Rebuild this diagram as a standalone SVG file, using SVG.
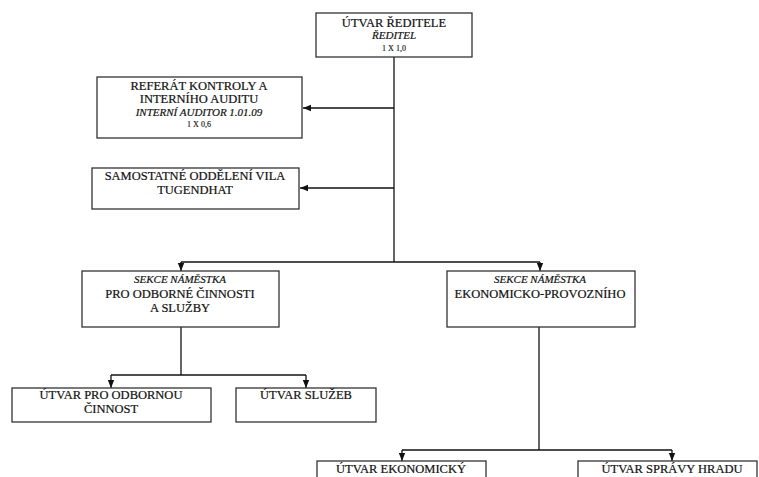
<svg xmlns="http://www.w3.org/2000/svg" width="759" height="477" viewBox="0 0 759 477">
<style>
.box{fill:#fff;stroke:#333;stroke-width:1.3}
.t{font-family:"Liberation Serif","Times New Roman",serif;font-size:12.5px;fill:#111;stroke:#111;stroke-width:0.2;text-anchor:middle}
.i{font-style:italic;font-size:11px}
.s{font-size:8px;stroke-width:0.15}
.c{fill:none;stroke:#111;stroke-width:1.3}
</style>
<defs>
<marker id="ah" markerUnits="userSpaceOnUse" markerWidth="8" markerHeight="8" viewBox="0 0 8 8" refX="8" refY="4" orient="auto">
<path d="M0,0.8 L8,4 L0,7.2 Z" fill="#111"/>
</marker>
</defs>
<rect width="759" height="477" fill="#fff"/>
<g id="connectors">
<path class="c" d="M394,57 V262"/>
<path class="c" d="M394,108 H303" marker-end="url(#ah)"/>
<path class="c" d="M394,188 H300" marker-end="url(#ah)"/>
<path class="c" d="M181,262 H540"/>
<path class="c" d="M181,262 V271" marker-end="url(#ah)"/>
<path class="c" d="M540,262 V271" marker-end="url(#ah)"/>
<path class="c" d="M181,327 V375"/>
<path class="c" d="M111,375 H306"/>
<path class="c" d="M111,375 V388" marker-end="url(#ah)"/>
<path class="c" d="M306,375 V388" marker-end="url(#ah)"/>
<path class="c" d="M539,327 V450"/>
<path class="c" d="M402,450 H672"/>
<path class="c" d="M402,450 V461" marker-end="url(#ah)"/>
<path class="c" d="M672,450 V461" marker-end="url(#ah)"/>
</g>
<g id="reditel">
<rect class="box" x="316" y="13" width="156" height="44"/>
<text class="t" x="394" y="27">ÚTVAR ŘEDITELE</text>
<text class="t i" x="394" y="39">ŘEDITEL</text>
<text class="t s" x="394" y="51">1 X 1,0</text>
</g>
<g id="audit">
<rect class="box" x="97" y="77" width="205" height="61"/>
<text class="t" x="199" y="90">REFERÁT KONTROLY A</text>
<text class="t" x="199" y="103">INTERNÍHO AUDITU</text>
<text class="t i" x="199" y="116">INTERNÍ AUDITOR 1.01.09</text>
<text class="t s" x="199" y="127">1 X 0,6</text>
</g>
<g id="vila">
<rect class="box" x="92" y="168" width="207" height="41"/>
<text class="t" x="195" y="180">SAMOSTATNÉ ODDĚLENÍ VILA</text>
<text class="t" x="195" y="194">TUGENDHAT</text>
</g>
<g id="sekce-odborne">
<rect class="box" x="82" y="271" width="197" height="56"/>
<text class="t i" x="180" y="283">SEKCE NÁMĚSTKA</text>
<text class="t" x="180" y="298">PRO ODBORNÉ ČINNOSTI</text>
<text class="t" x="180" y="312">A SLUŽBY</text>
</g>
<g id="sekce-ekonom">
<rect class="box" x="447" y="271" width="188" height="56"/>
<text class="t i" x="540" y="283">SEKCE NÁMĚSTKA</text>
<text class="t" x="540" y="298">EKONOMICKO-PROVOZNÍHO</text>
</g>
<g id="odborna">
<rect class="box" x="12" y="388" width="199" height="34"/>
<text class="t" x="111" y="399">ÚTVAR PRO ODBORNOU</text>
<text class="t" x="111" y="413">ČINNOST</text>
</g>
<g id="sluzby">
<rect class="box" x="236" y="388" width="140" height="34"/>
<text class="t" x="306" y="399">ÚTVAR SLUŽEB</text>
</g>
<g id="ekonomicky">
<rect class="box" x="317" y="461" width="169" height="30"/>
<text class="t" x="401" y="473">ÚTVAR EKONOMICKÝ</text>
</g>
<g id="sprava">
<rect class="box" x="578" y="461" width="179" height="30"/>
<text class="t" x="672" y="473">ÚTVAR SPRÁVY HRADU</text>
</g>
</svg>
